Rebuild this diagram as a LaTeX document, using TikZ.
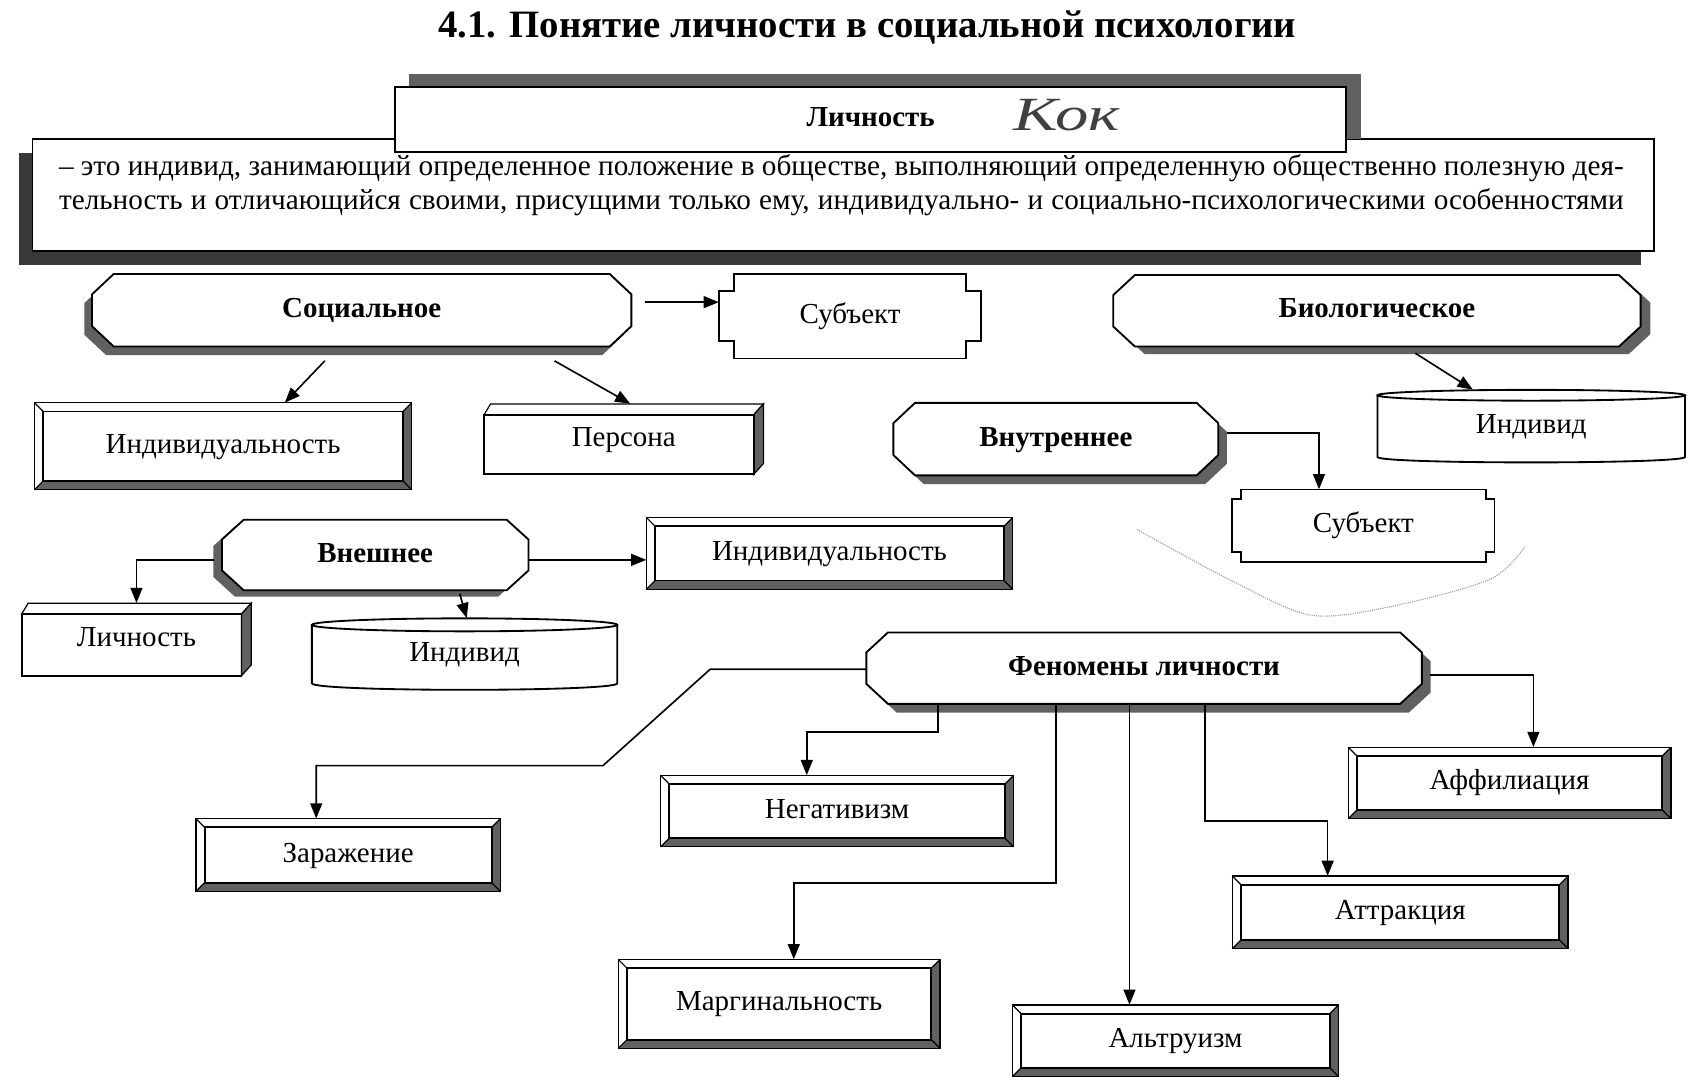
\documentclass[tikz,border=0pt]{standalone}
\usepackage{fontspec}
\setmainfont{Liberation Serif}
\newfontfamily\handfont[FakeStretch=1.4]{Liberation Serif}
\usetikzlibrary{arrows.meta,calc}
\tikzset{
  boxline/.style={line width=1.7pt},
  thinline/.style={line width=1.1pt},
  shadowfill/.style={fill=black!62},
  darkfill/.style={fill=black!78},
  arr/.style={line width=1.5pt,-{Triangle[length=14pt,width=11pt]}},
  lbl/.style={inner sep=0pt,font=\fontsize{26.75}{31}\selectfont,text height=18pt,text depth=5pt},
  blbl/.style={lbl,font=\fontsize{26.75}{31}\selectfont\bfseries},
}
% chamfered octagon path: x1 y1 x2 y2 ox oy
\newcommand\OctPath[6]{({#1+#5+\cha},{#2+#6}) -- ({#3+#5-\cha},{#2+#6}) -- ({#3+#5},{#2+#6+\chb}) -- ({#3+#5},{#4+#6-\chb}) -- ({#3+#5-\cha},{#4+#6}) -- ({#1+#5+\cha},{#4+#6}) -- ({#1+#5},{#4+#6-\chb}) -- ({#1+#5},{#2+#6+\chb}) -- cycle}
\newcommand\OctBox[8]{%
  \def\cha{20}\pgfmathsetmacro\chb{0.28*(#5-#3)}%
  \pgfmathsetmacro\bw{#4-#2}\pgfmathsetmacro\bh{#5-#3}%
  \fill[shadowfill] \OctPath{#2}{#3}{#4}{#5}{#6}{#7};
  \filldraw[boxline,fill=white] \OctPath{#2}{#3}{#4}{#5}{0}{0};
  \node[blbl,minimum width=\bw pt,minimum height=\bh pt] (#1) at ({(#2+#4)/2},{(#3+#5)/2}) {#8};
}
% bevelled frame: name x1 y1 x2 y2 text
\newcommand\BevBox[6]{%
  \pgfmathsetmacro\bw{#4-#2}\pgfmathsetmacro\bh{#5-#3}%
  \fill[shadowfill] ({#4-8},{#3+8}) -- (#4,#3) -- (#4,#5) -- (#2,#5) -- ({#2+8},{#5-8}) -- ({#4-8},{#5-8}) -- cycle;
  \draw[thinline] (#2,#3) rectangle (#4,#5);
  \draw[boxline] ({#2+8},{#3+8}) rectangle ({#4-8},{#5-8});
  \draw[thinline] (#2,#3) -- ({#2+8},{#3+8}) (#4,#3) -- ({#4-8},{#3+8}) (#2,#5) -- ({#2+8},{#5-8}) (#4,#5) -- ({#4-8},{#5-8});
  \node[lbl,minimum width=\bw pt,minimum height=\bh pt] (#1) at ({(#2+#4)/2},{(#3+#5)/2}) {#6};
}
% extruded box: name x1 y1 x2 y2 text
\newcommand\ExtBox[6]{%
  \pgfmathsetmacro\bw{#4-#2}\pgfmathsetmacro\bh{#5-#3}%
  \draw[thinline] (#2,{#3+10}) -- ({#2+6},#3) -- (#4,#3) -- ({#4-9},{#3+10}) -- cycle;
  \filldraw[thinline,shadowfill] ({#4-9},{#3+10}) -- (#4,#3) -- (#4,{#5-10}) -- ({#4-9},#5) -- cycle;
  \draw[boxline] (#2,{#3+10}) rectangle ({#4-9},#5);
  \node[lbl,minimum width=\bw pt,minimum height=\bh pt] (#1) at ({(#2+#4)/2},{(#3+#5)/2}) {#6};
}
% notched box: name x1 y1 x2 y2 nx ny text
\newcommand\NotchBox[8]{%
  \pgfmathsetmacro\bw{#4-#2}\pgfmathsetmacro\bh{#5-#3}%
  \draw[boxline] ({#2+#6},#3) -- ({#4-#6},#3) -- ({#4-#6},{#3+#7}) -- (#4,{#3+#7}) -- (#4,{#5-#7}) -- ({#4-#6},{#5-#7}) -- ({#4-#6},#5) -- ({#2+#6},#5) -- ({#2+#6},{#5-#7}) -- (#2,{#5-#7}) -- (#2,{#3+#7}) -- ({#2+#6},{#3+#7}) -- cycle;
  \node[lbl,minimum width=\bw pt,minimum height=\bh pt] (#1) at ({(#2+#4)/2},{(#3+#5)/2}) {#8};
}
% cylinder: name x1 ytop x2 ybottom ry text
\newcommand\CylBox[7]{%
  \pgfmathsetmacro\bw{#4-#2}\pgfmathsetmacro\bh{#5-#3}%
  \pgfmathsetmacro\cx{(#2+#4)/2}\pgfmathsetmacro\rx{(#4-#2)/2}%
  \filldraw[boxline,fill=white] (#2,{#3+#6}) -- (#2,{#5-#6}) .. controls (#2,{#5+0.333*#6}) and (#4,{#5+0.333*#6}) .. (#4,{#5-#6}) -- (#4,{#3+#6});
  \draw[boxline] (\cx,{#3+#6}) ellipse [x radius=\rx, y radius=#6];
  \node[lbl,minimum width=\bw pt,minimum height=\bh pt] (#1) at (\cx,{(#3+#5)/2}) {#7};
}
\begin{document}
\begin{tikzpicture}[x=1pt,y=-1pt]
\useasboundingbox[fill=white] (0,0) rectangle (1568,1006);

\node[inner sep=0pt,font=\fontsize{35.8}{40}\selectfont\bfseries] (ttl) at (801,25) {4.1. Понятие личности в социальной психологии};

% definition and main box
\fill[darkfill] (18,141) rectangle (1515,245);
\filldraw[boxline,fill=white] (30,128) rectangle (1527,232);
\fill[shadowfill] (378,68) rectangle (1257,128);
\filldraw[boxline,fill=white] (365,80) rectangle (1243,140);
\node[blbl] (lich) at (804,110) {Личность};
\node[inner sep=0pt,font=\fontsize{44}{48}\selectfont\handfont\itshape,text=black!75] (kok) at (985,106) {Кок};
\node[inner sep=0pt,align=left,font=\fontsize{27}{32}\selectfont] (defn) at (777,171)
  {\makebox[1445pt][s]{– это индивид, занимающий определенное положение в обществе, выполняющий определенную общественно полезную дея-}\\
   \makebox[1445pt][s]{тельность и отличающийся своими, присущими только ему, индивидуально- и социально-психологическими особенностями}};

% upper shapes
\OctBox{soc}{85}{253}{583}{320}{-7}{8}{Социальное}
\NotchBox{sub1}{664}{253}{906}{331}{14}{16}{Субъект}
\OctBox{bio}{1028}{254}{1515}{320}{9}{7}{Биологическое}
\BevBox{ind1}{32}{372}{380}{452}{Индивидуальность}
\ExtBox{pers}{447}{373}{705}{438}{Персона}
\CylBox{indB}{1272}{360}{1556}{427}{5}{Индивид}
\OctBox{vnut}{825}{372}{1125}{439}{8}{8}{Внутреннее}
\NotchBox{sub2}{1138}{452}{1380}{519}{8}{9}{Субъект}
\OctBox{vnesh}{205}{480}{488}{545}{-8}{6}{Внешнее}
\BevBox{indv2}{597}{478}{935}{544}{Индивидуальность}
\ExtBox{lich2}{20}{557}{232}{624}{Личность}
\CylBox{indA}{288}{571}{570}{637}{6}{Индивид}

% phenomena
\OctBox{fen}{800}{584}{1313}{650}{8}{8}{Феномены личности}
\BevBox{zar}{181}{756}{462}{823}{Заражение}
\BevBox{neg}{610}{716}{936}{782}{Негативизм}
\BevBox{marg}{571}{886}{868}{968}{Маргинальность}
\BevBox{alt}{935}{928}{1236}{994}{Альтруизм}
\BevBox{attr}{1138}{809}{1448}{876}{Аттракция}
\BevBox{aff}{1245}{690}{1543}{756}{Аффилиация}

% connectors
\coordinate (c1) at ($(soc.east)+(12,-7.5)$);
\draw[arr] (c1) -- (c1 -| sub1.west);
\draw[arr] ($(soc.south)+(-34,13)$) -- ($(ind1.north)+(57,0)$);
\draw[arr] ($(soc.south)+(178,13)$) -- ($(pers.north)+(6,0)$);
\draw[arr] ($(bio.south)+(35.5,6)$) -- ($(indB.north)+(-54,0)$);
\draw[arr] ($(vnesh.west)+(-7,4.5)$) -| (lich2.north);
\coordinate (c2) at ($(vnesh.east)+(0,4.5)$);
\draw[arr] (c2) -- (c2 -| indv2.west);
\draw[arr] ($(vnesh.south)+(78,3)$) -- ($(indA.north)+(2,0)$);
\draw[arr] ($(vnut.east)+(8,-5.5)$) -| ($(sub2.north)+(-41,0)$);
\draw[arr] ($(fen.west)+(0,1)$) -- ++(-144,0) -- ++(-99,89) -| ($(zar.north)+(-29.5,0)$);
\draw[arr] ($(fen.south)+(-190.5,0)$) -- ++(0,26) -| ($(neg.north)+(-28,0)$);
\draw[arr] ($(fen.south)+(-81.5,0)$) -- ++(0,165) -| ($(marg.north)+(13.5,0)$);
\coordinate (c3) at ($(fen.south)+(-13.5,0)$);
\draw[arr] (c3) -- (c3 |- alt.north);
\draw[arr] ($(fen.south)+(56,0)$) -- ++(0,108) -| ($(attr.north)+(-67,0)$);
\draw[arr] ($(fen.east)+(7,6.5)$) -| ($(aff.north)+(22,0)$);

% faint pencil curve
\draw[black!40,densely dotted,line width=1pt] plot[smooth] coordinates {(1050,489) (1135,535) (1210,568) (1285,560) (1376,535) (1408,505)};
\end{tikzpicture}
\end{document}
